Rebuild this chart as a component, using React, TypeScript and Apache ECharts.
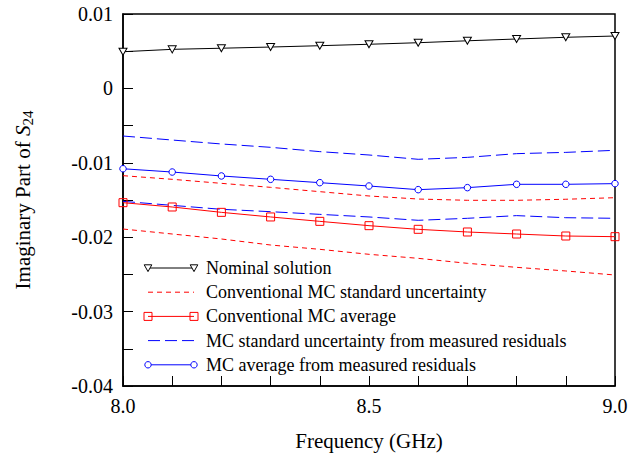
import React, { useEffect, useRef } from "react";
import * as echarts from "echarts";

const freq = [8.0, 8.1, 8.2, 8.3, 8.4, 8.5, 8.6, 8.7, 8.8, 8.9, 9.0];
const nominal = [0.00493, 0.00525, 0.0054, 0.00556, 0.00574, 0.00593, 0.00614, 0.0064, 0.00664, 0.00687, 0.00704];
const convUncUpper = [-0.01173, -0.01222, -0.01276, -0.0133, -0.01388, -0.01446, -0.01487, -0.01504, -0.01504, -0.0149, -0.01469];
const convUncLower = [-0.0189, -0.01957, -0.02024, -0.02105, -0.02163, -0.0223, -0.02284, -0.02351, -0.02405, -0.02454, -0.02508];
const convAvg = [-0.01536, -0.01594, -0.01666, -0.01728, -0.01787, -0.01845, -0.01894, -0.0193, -0.01957, -0.01984, -0.01993];
const mcUncUpper = [-0.0064, -0.00694, -0.00747, -0.00792, -0.0085, -0.00895, -0.00953, -0.00927, -0.00877, -0.0086, -0.00832];
const mcUncLower = [-0.01518, -0.01572, -0.01625, -0.01657, -0.01693, -0.01728, -0.01773, -0.01746, -0.0171, -0.01738, -0.01746];
const mcAvg = [-0.0108, -0.01124, -0.01177, -0.01222, -0.01267, -0.01312, -0.01361, -0.01334, -0.01289, -0.01289, -0.0128];

const legendNames = [
  "Nominal solution",
  "Conventional MC standard uncertainty",
  "Conventional MC average",
  "MC standard uncertainty from measured residuals",
  "MC average from measured residuals",
];

const FONT = "Liberation Serif, serif";
const RED = "#ff0000";
const BLUE = "#0000ff";

const pairs = (ys: number[]) => freq.map((x, i) => [x, ys[i]]);

export default function App() {
  const ref = useRef<HTMLDivElement>(null);
  useEffect(() => {
    if (!ref.current) return;
    const chart = echarts.init(ref.current, null, { renderer: "svg" });

    const lx1 = 148, lx2 = 194, ltx = 206, ly0 = 268, ldy = 24.2;
    const legendGraphics: any[] = [];
    const rowY = (i: number) => ly0 + i * ldy;
    const tri = (cx: number, cy: number) => ({
      type: "polygon",
      shape: { points: [[cx - 3.8, cy - 3.2], [cx + 3.8, cy - 3.2], [cx, cy + 3.6]] },
      style: { fill: "#fff", stroke: "#000", lineWidth: 1 },
      z: 101,
    });
    const sq = (cx: number, cy: number) => ({
      type: "rect",
      shape: { x: cx - 4, y: cy - 4, width: 8, height: 8 },
      style: { fill: "none", stroke: RED, lineWidth: 1 },
      z: 101,
    });
    const circ = (cx: number, cy: number) => ({
      type: "circle",
      shape: { cx, cy, r: 3.2 },
      style: { fill: "#fff", stroke: BLUE, lineWidth: 1 },
      z: 101,
    });
    const lineEl = (y: number, color: string, dash?: number[]) => ({
      type: "line",
      shape: { x1: lx1, y1: y, x2: lx2, y2: y },
      style: { stroke: color, lineWidth: 1, lineDash: dash },
      z: 100,
    });
    legendGraphics.push(lineEl(rowY(0), "#000"), tri(lx1, rowY(0)), tri(lx2, rowY(0)));
    legendGraphics.push(lineEl(rowY(1), RED, [5, 4]));
    legendGraphics.push(lineEl(rowY(2), RED), sq(lx1, rowY(2)), sq(lx2, rowY(2)));
    legendGraphics.push(lineEl(rowY(3), BLUE, [12, 5]));
    legendGraphics.push(lineEl(rowY(4), BLUE), circ(lx1, rowY(4)), circ(lx2, rowY(4)));
    legendNames.forEach((n, i) => {
      legendGraphics.push({
        type: "text",
        x: ltx,
        y: rowY(i),
        style: {
          text: n,
          fontFamily: FONT,
          fontSize: 18,
          fill: "#000",
          verticalAlign: "middle",
        },
        z: 100,
      });
    });

    chart.setOption({
      animation: false,
      backgroundColor: "#fff",
      textStyle: { fontFamily: FONT },
      grid: {
        left: 123,
        right: 23,
        top: 14,
        bottom: 78,
        show: true,
        borderColor: "#000",
        borderWidth: 1.5,
        backgroundColor: "transparent",
      },
      xAxis: {
        type: "value",
        min: 8,
        max: 9,
        interval: 0.5,
        name: "Frequency (GHz)",
        nameLocation: "middle",
        nameGap: 44,
        nameTextStyle: { fontFamily: FONT, fontSize: 21, color: "#000" },
        axisLine: { show: true, onZero: false, lineStyle: { color: "#000", width: 1.5 } },
        axisTick: { show: true, inside: true, length: 10, lineStyle: { color: "#000", width: 1 } },
        minorTick: { show: true, splitNumber: 5, length: 10, lineStyle: { color: "#000", width: 1 } },
        splitLine: { show: false },
        axisLabel: {
          fontFamily: FONT,
          fontSize: 20,
          color: "#000",
          margin: 10,
          formatter: (v: number) => v.toFixed(1),
        },
      },
      yAxis: {
        type: "value",
        min: -0.04,
        max: 0.01,
        interval: 0.01,
        name: "{a|Imaginary Part of }{i|S}{s|24}",
        nameLocation: "middle",
        nameRotate: 90,
        nameGap: 88,
        nameTextStyle: {
          fontFamily: FONT,
          fontSize: 21,
          color: "#000",
          rich: {
            a: { fontFamily: FONT, fontSize: 21, color: "#000" },
            i: { fontFamily: FONT, fontSize: 21, fontStyle: "italic", color: "#000" },
            s: { fontFamily: FONT, fontSize: 15, color: "#000", padding: [10, 0, 0, 0] },
          },
        },
        axisLine: { show: true, onZero: false, lineStyle: { color: "#000", width: 1.5 } },
        axisTick: { show: true, inside: true, length: 10, lineStyle: { color: "#000", width: 1 } },
        minorTick: { show: true, splitNumber: 2, length: 10, lineStyle: { color: "#000", width: 1 } },
        splitLine: { show: false },
        axisLabel: {
          fontFamily: FONT,
          fontSize: 20,
          color: "#000",
          margin: 10,
          formatter: (v: number) => String(Number(v.toFixed(3))),
        },
      },
      graphic: legendGraphics,
      series: [
        {
          name: legendNames[0],
          type: "line",
          data: pairs(nominal),
          symbol: "triangle",
          symbolRotate: 180,
          symbolSize: [8, 7],
          itemStyle: { color: "#fff", borderColor: "#000", borderWidth: 1 },
          lineStyle: { color: "#000", width: 1 },
          z: 5,
        },
        {
          name: legendNames[1],
          type: "line",
          data: pairs(convUncUpper),
          showSymbol: false,
          symbol: "none",
          lineStyle: { color: RED, width: 1, type: [5, 4] },
        },
        {
          name: legendNames[1],
          type: "line",
          data: pairs(convUncLower),
          showSymbol: false,
          symbol: "none",
          lineStyle: { color: RED, width: 1, type: [5, 4] },
        },
        {
          name: legendNames[2],
          type: "line",
          data: pairs(convAvg),
          symbol: "rect",
          symbolSize: 8,
          itemStyle: { color: "rgba(255,255,255,0)", borderColor: RED, borderWidth: 1 },
          lineStyle: { color: RED, width: 1 },
          z: 4,
        },
        {
          name: legendNames[3],
          type: "line",
          data: pairs(mcUncUpper),
          showSymbol: false,
          symbol: "none",
          lineStyle: { color: BLUE, width: 1, type: [12, 5] },
        },
        {
          name: legendNames[3],
          type: "line",
          data: pairs(mcUncLower),
          showSymbol: false,
          symbol: "none",
          lineStyle: { color: BLUE, width: 1, type: [12, 5] },
        },
        {
          name: legendNames[4],
          type: "line",
          data: pairs(mcAvg),
          symbol: "circle",
          symbolSize: 6.5,
          itemStyle: { color: "#fff", borderColor: BLUE, borderWidth: 1 },
          lineStyle: { color: BLUE, width: 1 },
          z: 4,
        },
      ],
    });
    return () => chart.dispose();
  }, []);
  return (
    <div
      ref={ref}
      style={{ position: "fixed", left: 0, top: 0, width: 638, height: 464, background: "#fff" }}
    />
  );
}
